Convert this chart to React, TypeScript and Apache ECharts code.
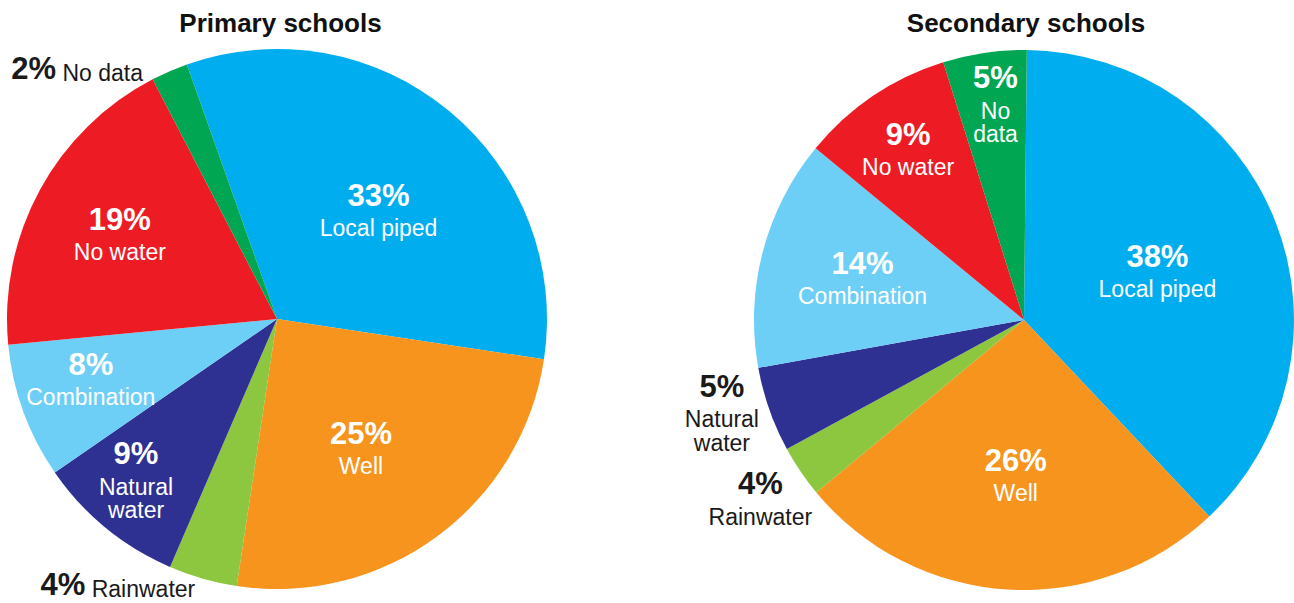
import React, { useEffect, useRef } from "react";
import * as echarts from "echarts";

// ---- Data ----
const categories = ["Local piped", "Well", "Rainwater", "Natural water", "Combination", "No water", "No data"];
const primaryShares = [32.8, 25.0, 4.1, 8.9, 8.1, 18.9, 2.2];
const primaryPercentLabels = ["33%", "25%", "4%", "9%", "8%", "19%", "2%"];
const primaryNameLabels = ["Local piped", "Well", "Rainwater", "Natural\nwater", "Combination", "No water", "No data"];
const secondaryShares = [37.8, 26.0, 3.1, 5.1, 13.8, 9.2, 5.0];
const secondaryPercentLabels = ["38%", "26%", "4%", "5%", "14%", "9%", "5%"];
const secondaryNameLabels = ["Local piped", "Well", "Rainwater", "Natural\nwater", "Combination", "No water", "No\ndata"];
const chartTitles = ["Primary schools", "Secondary schools"];

// ---- Styles / layout ----
const sliceColors = ["#00AEEF", "#F7941D", "#8DC63F", "#2E3192", "#6DCFF6", "#ED1C24", "#00A651"];
const FONT = "'Liberation Sans', Arial, sans-serif";
const RADIUS = 270;
const primaryCenter = [277, 319];
const secondaryCenter = [1024, 320];

type Placement = { rf: number; dx: number; dy: number; align?: string; inline?: boolean; outside?: boolean };
const primaryPlacement: Placement[] = [
  { rf: 0.548, dx: 6, dy: 4 },
  { rf: 0.57, dx: -6, dy: 4 },
  { rf: 1.034, dx: -5, dy: -2.5, align: "right", inline: true, outside: true },
  { rf: 0.794, dx: -7, dy: -6 },
  { rf: 0.723, dx: -4, dy: -10 },
  { rf: 0.661, dx: 1, dy: -2 },
  { rf: 1.047, dx: -21.5, dy: 9, align: "right", inline: true, outside: true },
];
const secondaryPlacement: Placement[] = [
  { rf: 0.523, dx: 1, dy: 0 },
  { rf: 0.575, dx: 1, dy: 0 },
  { rf: 1.179, dx: -3, dy: -4, outside: true },
  { rf: 1.17, dx: -6, dy: -17, outside: true },
  { rf: 0.619, dx: 1, dy: -3 },
  { rf: 0.763, dx: 1, dy: -1 },
  { rf: 0.808, dx: 4, dy: 0 },
];

const rich = {
  pct: { fontSize: 31, fontWeight: "bold", lineHeight: 42, fontFamily: FONT },
  name: { fontSize: 23, lineHeight: 23.5, fontFamily: FONT },
  pctI: { fontSize: 31, fontWeight: "bold", lineHeight: 31, verticalAlign: "bottom", fontFamily: FONT },
  nameI: { fontSize: 23, lineHeight: 25.5, verticalAlign: "bottom", fontFamily: FONT },
};

function buildSeries(
  shares: number[],
  pcts: string[],
  names: string[],
  placement: Placement[],
  center: number[],
  startAngle: number
) {
  const [cx, cy] = center;
  return {
    type: "pie",
    center,
    radius: RADIUS,
    startAngle,
    clockwise: true,
    silent: true,
    avoidLabelOverlap: false,
    itemStyle: { borderWidth: 0 },
    emphasis: { disabled: true },
    labelLine: { show: false },
    label: {
      show: true,
      position: "inside",
      overflow: "none",
      fontFamily: FONT,
      fontSize: 23,
      formatter: (p: any) => {
        const i = p.dataIndex;
        const pl = placement[i];
        if (pl.inline) return `{pctI|${pcts[i]}} {nameI|${names[i]}}`;
        const nameLines = names[i].split("\n").map((s) => `{name|${s}}`).join("\n");
        return `{pct|${pcts[i]}}\n${nameLines}`;
      },
      rich,
    },
    labelLayout: (params: any) => {
      const pl = placement[params.dataIndex];
      const lr = params.labelRect;
      const mx = lr.x + lr.width / 2;
      const my = lr.y + lr.height / 2;
      const vx = mx - cx;
      const vy = my - cy;
      const len = Math.hypot(vx, vy) || 1;
      const x = cx + (vx / len) * pl.rf * RADIUS + pl.dx;
      const y = cy + (vy / len) * pl.rf * RADIUS + pl.dy + (pl.inline ? 0 : -3);
      return { x, y, align: pl.align || "center", verticalAlign: "middle" };
    },
    data: categories.map((c, i) => ({
      name: c,
      value: shares[i],
      itemStyle: { color: sliceColors[i] },
      label: { color: placement[i].outside ? "#1a1a1a" : "#ffffff" },
    })),
  };
}

export default function App() {
  const ref = useRef<HTMLDivElement>(null);
  useEffect(() => {
    if (!ref.current) return;
    const chart = echarts.init(ref.current, undefined, { renderer: "svg" });
    const titleStyle = { fontSize: 26, fontWeight: "bold", fontFamily: FONT, color: "#111" };
    chart.setOption({
      animation: false,
      backgroundColor: "#ffffff",
      title: [
        { text: chartTitles[0], left: 280.5, top: 10, padding: 0, textAlign: "center", textVerticalAlign: "top", textStyle: titleStyle },
        { text: chartTitles[1], left: 1026, top: 10, padding: 0, textAlign: "center", textVerticalAlign: "top", textStyle: titleStyle },
      ],
      series: [
        buildSeries(primaryShares, primaryPercentLabels, primaryNameLabels, primaryPlacement, primaryCenter, 109.5),
        buildSeries(secondaryShares, secondaryPercentLabels, secondaryNameLabels, secondaryPlacement, secondaryCenter, 89.4),
      ],
    });
    return () => chart.dispose();
  }, []);
  return <div ref={ref} style={{ position: "fixed", left: 0, top: 0, width: 1294, height: 603 }} />;
}
